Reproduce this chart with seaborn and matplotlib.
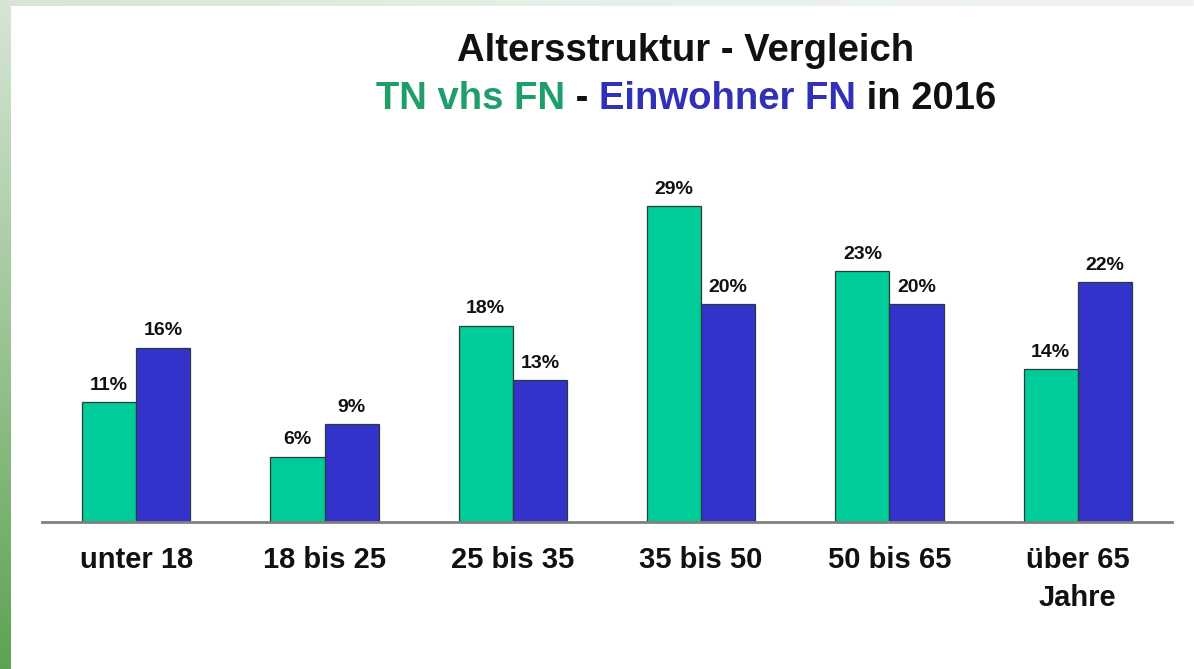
import numpy as np
import pandas as pd
import matplotlib
matplotlib.use("Agg")
import matplotlib.pyplot as plt
import seaborn as sns
from matplotlib.colors import LinearSegmentedColormap

categories = ["unter 18", "18 bis 25", "25 bis 35", "35 bis 50", "50 bis 65", "über 65\nJahre"]
series_names = ["TN vhs FN", "Einwohner FN"]
tn_values = [11, 6, 18, 29, 23, 14]
ew_values = [16, 9, 13, 20, 20, 22]

GREEN = "#00cc99"
BLUE = "#3333cc"
TITLE_GREEN = "#1f9e6c"
TITLE_BLUE = "#3030b8"

sns.set_theme(style="white")
plt.rcParams['font.family'] = ['Liberation Sans', 'DejaVu Sans']

df = pd.DataFrame({
    "Kategorie": categories * 2,
    "Serie": [series_names[0]] * len(categories) + [series_names[1]] * len(categories),
    "Wert": tn_values + ew_values,
})

W, H = 1194, 669
fig = plt.figure(figsize=(W / 100, H / 100), dpi=100)
fig.patch.set_facecolor("white")

# decorative borders
lb = fig.add_axes([0, 0, 11 / W, 1])
grad = np.linspace(0, 1, 256).reshape(-1, 1)
cm_left = LinearSegmentedColormap.from_list("l", ["#5ca352", "#9cc595", "#d8e5d8"])
lb.imshow(grad, aspect="auto", cmap=cm_left, origin="lower")
lb.axis("off")
tb = fig.add_axes([11 / W, 1 - 6 / H, 1 - 11 / W, 6 / H])
cm_top = LinearSegmentedColormap.from_list("t", ["#d8e4d8", "#e8efe8", "#f0f4f0"])
tb.imshow(grad.T, aspect="auto", cmap=cm_top)
tb.axis("off")

# main axes
x0, x1 = 42, 1172
y_base, y_top = 522, 150
ax = fig.add_axes([x0 / W, (H - y_base) / H, (x1 - x0) / W, (y_base - y_top) / H])
ax.set_facecolor("white")
sns.barplot(data=df, x="Kategorie", y="Wert", hue="Serie",
            palette=[GREEN, BLUE], width=0.575, dodge=True,
            edgecolor="#2a3a3a", linewidth=0.9, saturation=1, ax=ax, legend=False)
ax.set_ylim(0, (y_base - y_top) / 10.9)
ax.set_xlim(-0.5, 5.5)
ax.set_xlabel("")
ax.set_ylabel("")
ax.set_yticks([])
for s in ["top", "right", "left"]:
    ax.spines[s].set_visible(False)
ax.spines["bottom"].set_color("#808080")
ax.spines["bottom"].set_linewidth(2)
ax.tick_params(axis="x", length=0, pad=17)
for lbl in ax.get_xticklabels():
    lbl.set_fontsize(21)
    lbl.set_fontweight("bold")
    lbl.set_color("#111111")
    lbl.set_linespacing(1.45)
    lbl.set_va("top")

for cont in ax.containers:
    ax.bar_label(cont, labels=[f"{int(round(v))}%" for v in cont.datavalues],
                 padding=6, fontsize=14, fontweight="bold", color="#111111",
                 family=['Liberation Sans Narrow', 'Liberation Sans', 'DejaVu Sans'])

# title
cx = 686 / W
fig.text(cx, 1 - 51 / H, "Altersstruktur - Vergleich", ha="center", va="center",
         fontsize=27.5, fontweight="bold", color="#111111")

parts = [("TN vhs FN", TITLE_GREEN), (" - ", "#111111"),
         ("Einwohner FN", TITLE_BLUE), (" in 2016", "#111111")]
fig.canvas.draw()
renderer = fig.canvas.get_renderer()
texts = []
for s, c in parts:
    t = fig.text(0, 1 - 99 / H, s, ha="left", va="center", fontsize=27.5,
                 fontweight="bold", color=c)
    texts.append(t)
widths = [t.get_window_extent(renderer).width / W for t in texts]
total = sum(widths)
start = cx - total / 2
for t, w in zip(texts, widths):
    t.set_x(start)
    start += w

fig.savefig("out.png", dpi=100, facecolor="white")
